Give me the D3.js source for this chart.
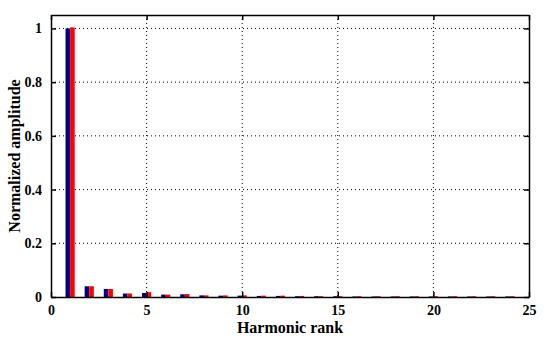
<!DOCTYPE html>
<html>
<head>
<meta charset="utf-8">
<script src="https://cdn.jsdelivr.net/npm/d3@7"></script>
<style>
  body { margin: 0; background: #fff; }
  text { font-family: "Liberation Serif", "Times New Roman", serif; font-weight: bold; }
</style>
</head>
<body>
<div id="chart"></div>
<script>
// harmonic spectrum, two series
const harmonics = d3.range(1, 25);
const blueSeries = [1.0, 0.040, 0.030, 0.013, 0.015, 0.009, 0.010, 0.006, 0.005, 0.005, 0.004, 0.004,
                    0.003, 0.003, 0.003, 0.002, 0.002, 0.002, 0.002, 0.002, 0.002, 0.002, 0.002, 0.002];
const redSeries = [1.004, 0.040, 0.030, 0.013, 0.018, 0.009, 0.011, 0.006, 0.006, 0.006, 0.005, 0.005,
                   0.004, 0.003, 0.003, 0.003, 0.003, 0.003, 0.003, 0.003, 0.003, 0.003, 0.003, 0.003];
const xTicks = [0, 5, 10, 15, 20, 25];
const yTicks = [0, 0.2, 0.4, 0.6, 0.8, 1];

const width = 550, height = 341;
const margin = { top: 15, right: 21, bottom: 44, left: 51 };
const w = width - margin.left - margin.right;
const h = height - margin.top - margin.bottom;

const svg = d3.select('#chart').append('svg')
    .attr('width', width)
    .attr('height', height);
const g = svg.append('g').attr('transform', `translate(${margin.left},${margin.top})`);

const x = d3.scaleLinear().domain([0, 25]).range([0, w]);
const y = d3.scaleLinear().domain([0, 1.05]).range([h, 0]);
const barW = 0.24;

// Grid lines (dotted)
g.append('g').selectAll('line')
    .data(xTicks.slice(1, -1))
    .join('line')
    .attr('x1', d => x(d)).attr('x2', d => x(d))
    .attr('y1', 0).attr('y2', h)
    .attr('stroke', '#000').attr('stroke-width', 1)
    .attr('stroke-dasharray', '1,3');
g.append('g').selectAll('line')
    .data(yTicks.slice(1))
    .join('line')
    .attr('x1', 0).attr('x2', w)
    .attr('y1', d => y(d)).attr('y2', d => y(d))
    .attr('stroke', '#000').attr('stroke-width', 1)
    .attr('stroke-dasharray', '1,3');

// Bars
g.append('g').selectAll('rect')
    .data(harmonics)
    .join('rect')
    .attr('x', d => x(d - barW))
    .attr('width', x(barW) - x(0))
    .attr('y', (d, i) => y(blueSeries[i]))
    .attr('height', (d, i) => y(0) - y(blueSeries[i]))
    .attr('fill', '#000080');
g.append('g').selectAll('rect')
    .data(harmonics)
    .join('rect')
    .attr('x', d => x(d))
    .attr('width', x(barW) - x(0))
    .attr('y', (d, i) => y(redSeries[i]))
    .attr('height', (d, i) => y(0) - y(redSeries[i]))
    .attr('fill', '#ff0000');

// Axes
g.append('g')
    .attr('transform', `translate(0,${h})`)
    .call(d3.axisBottom(x).tickValues(xTicks).tickFormat(d3.format('d')).tickSizeInner(-5).tickSizeOuter(0).tickPadding(8));
g.append('g')
    .call(d3.axisLeft(y).tickValues(yTicks).tickFormat(d => d === 0 || d === 1 ? d : d3.format('.1f')(d)).tickSizeInner(-5).tickSizeOuter(0).tickPadding(9));
g.append('g')
    .call(d3.axisTop(x).tickValues(xTicks).tickFormat('').tickSizeInner(-5).tickSizeOuter(0));
g.append('g')
    .attr('transform', `translate(${w},0)`)
    .call(d3.axisRight(y).tickValues(yTicks).tickFormat('').tickSizeInner(-5).tickSizeOuter(0));

svg.selectAll('.domain').attr('stroke', '#000').attr('stroke-width', 1.5);
svg.selectAll('.tick line').attr('stroke', '#000').attr('stroke-width', 1.5);
svg.selectAll('.tick text').attr('font-size', 14).attr('fill', '#000')
    .attr('font-family', '"Liberation Serif", serif').attr('font-weight', 'bold');

// Axis labels
svg.append('text')
    .attr('x', margin.left + w / 2)
    .attr('y', 333)
    .attr('text-anchor', 'middle')
    .attr('font-size', 16)
    .text('Harmonic rank');
svg.append('text')
    .attr('transform', `translate(20,${margin.top + h / 2}) rotate(-90)`)
    .attr('text-anchor', 'middle')
    .attr('font-size', 16)
    .text('Normalized amplitude');
</script>
</body>
</html>
